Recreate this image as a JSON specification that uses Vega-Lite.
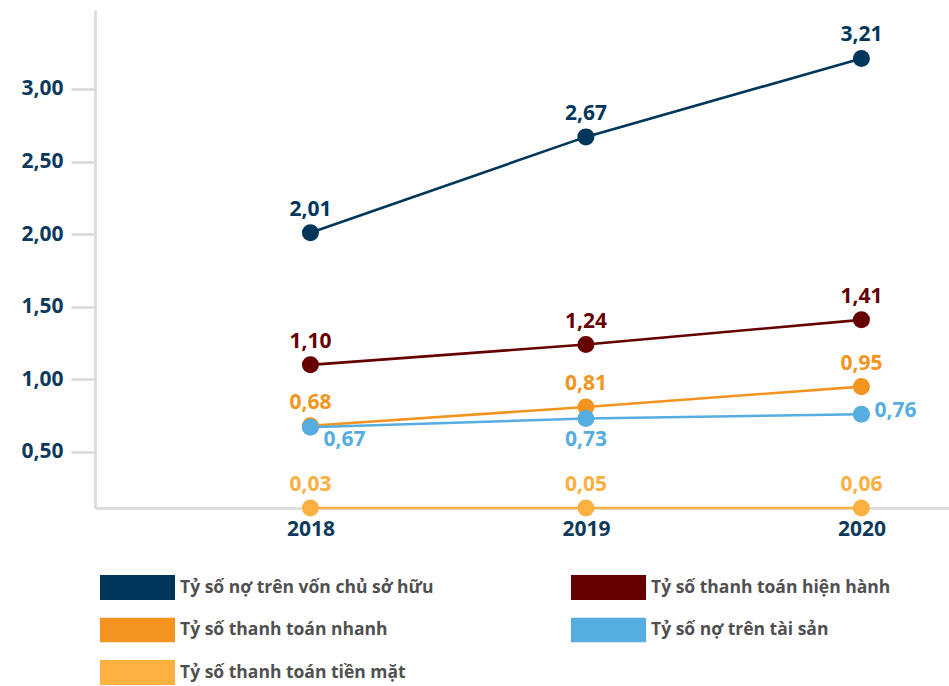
{
  "$schema": "https://vega.github.io/schema/vega-lite/v6.json",
  "width": 854,
  "height": 498,
  "autosize": {"type": "none"},
  "padding": {"left": 95, "top": 10, "right": 0, "bottom": 178},
  "background": "white",
  "config": {
    "view": {"stroke": null},
    "locale": {"number": {"decimal": ",", "thousands": ".", "grouping": [3], "currency": ["", ""]}},
    "font": "Open Sans"
  },
  "datasets": {
    "ratios": [
      {"series": "Tỷ số thanh toán tiền mặt", "year": 2018, "value": 0.03},
      {"series": "Tỷ số thanh toán tiền mặt", "year": 2019, "value": 0.05},
      {"series": "Tỷ số thanh toán tiền mặt", "year": 2020, "value": 0.06},
      {"series": "Tỷ số thanh toán nhanh", "year": 2018, "value": 0.68},
      {"series": "Tỷ số thanh toán nhanh", "year": 2019, "value": 0.81},
      {"series": "Tỷ số thanh toán nhanh", "year": 2020, "value": 0.95},
      {"series": "Tỷ số nợ trên tài sản", "year": 2018, "value": 0.67},
      {"series": "Tỷ số nợ trên tài sản", "year": 2019, "value": 0.73},
      {"series": "Tỷ số nợ trên tài sản", "year": 2020, "value": 0.76},
      {"series": "Tỷ số thanh toán hiện hành", "year": 2018, "value": 1.10},
      {"series": "Tỷ số thanh toán hiện hành", "year": 2019, "value": 1.24},
      {"series": "Tỷ số thanh toán hiện hành", "year": 2020, "value": 1.41},
      {"series": "Tỷ số nợ trên vốn chủ sở hữu", "year": 2018, "value": 2.01},
      {"series": "Tỷ số nợ trên vốn chủ sở hữu", "year": 2019, "value": 2.67},
      {"series": "Tỷ số nợ trên vốn chủ sở hữu", "year": 2020, "value": 3.21}
    ],
    "grid": [{"g": 0.5}, {"g": 1.0}, {"g": 1.5}, {"g": 2.0}, {"g": 2.5}, {"g": 3.0}]
  },
  "encoding": {
    "x": {
      "field": "year", "type": "quantitative",
      "scale": {"domain": [2017.218, 2020.318], "nice": false, "zero": false},
      "axis": {
        "title": null, "values": [2018, 2019, 2020], "format": "d",
        "ticks": false, "tickSize": 0, "grid": false,
        "domainColor": "#d9d9d9", "domainWidth": 2.6,
        "labelFont": "Open Sans", "labelFontWeight": "bold", "labelFontSize": 21,
        "labelColor": "#0d3a5c", "labelPadding": 10, "labelBaseline": "top"
      }
    },
    "y": {
      "field": "value", "type": "quantitative",
      "scale": {"domain": [0.114, 3.544], "nice": false, "zero": false, "clamp": true},
      "axis": {
        "title": null, "values": [0.5, 1.0, 1.5, 2.0, 2.5, 3.0], "format": ".2f",
        "grid": false, "domainColor": "#d9d9d9", "domainWidth": 2.6,
        "ticks": true, "tickColor": "#d6d6d6", "tickWidth": 2.4, "tickSize": 24, "tickOpacity": 1,
        "labelFont": "Open Sans", "labelFontWeight": "bold", "labelFontSize": 21,
        "labelColor": "#0d3a5c", "labelPadding": 8
      }
    }
  },
  "layer": [
    {
      "data": {"name": "grid"},
      "mark": {"type": "rule", "color": "#d9d9d9", "strokeWidth": 2.2},
      "encoding": {
        "x": {"datum": 2017.392, "type": "quantitative"},
        "x2": {"datum": 2020.318},
        "y": {"field": "g", "type": "quantitative"}
      }
    },
    {
      "data": {"name": "grid"},
      "mark": {"type": "rule", "color": "#d6d6d6", "strokeWidth": 2.4, "clip": false},
      "encoding": {
        "x": {"datum": 2017.131, "type": "quantitative"},
        "x2": {"datum": 2017.211},
        "y": {"field": "g", "type": "quantitative"}
      }
    },
    {
      "data": {"name": "ratios"},
      "mark": {"type": "line", "strokeWidth": 2.6},
      "encoding": {
        "color": {
          "field": "series", "type": "nominal",
          "scale": {
            "domain": ["Tỷ số nợ trên vốn chủ sở hữu", "Tỷ số thanh toán hiện hành", "Tỷ số thanh toán nhanh", "Tỷ số nợ trên tài sản", "Tỷ số thanh toán tiền mặt"],
            "range": ["#00365a", "#660000", "#f39420", "#55ade0", "#fbb040"]
          },
          "legend": {
            "title": null, "orient": "none", "legendX": 5, "legendY": 565,
            "direction": "horizontal", "columns": 2, "columnPadding": 137, "rowPadding": 17.5,
            "clipHeight": 25,
            "symbolType": "M-1,-0.3333H1V0.3333H-1Z", "symbolSize": 5625,
            "symbolStrokeWidth": 0, "symbolOpacity": 1, "labelOffset": 5,
            "labelFont": "Open Sans", "labelFontWeight": "bold", "labelFontSize": 17.5,
            "labelColor": "#505050", "labelLimit": 400
          }
        }
      }
    },
    {
      "data": {"name": "ratios"},
      "mark": {"type": "circle", "size": 290, "opacity": 1},
      "encoding": {"color": {"field": "series", "type": "nominal"}}
    },
    {
      "data": {"name": "ratios"},
      "transform": [{"filter": "datum.series !== 'Tỷ số nợ trên tài sản'"}],
      "mark": {"type": "text", "font": "Open Sans", "fontWeight": "bold", "fontSize": 21, "align": "center", "baseline": "middle", "dy": -23},
      "encoding": {"color": {"field": "series", "type": "nominal"}, "text": {"field": "value", "type": "quantitative", "format": ".2f"}}
    },
    {
      "data": {"name": "ratios"},
      "transform": [{"filter": "datum.series === 'Tỷ số nợ trên tài sản' && datum.year === 2018"}],
      "mark": {"type": "text", "font": "Open Sans", "fontWeight": "bold", "fontSize": 21, "align": "center", "baseline": "middle", "dx": 34, "dy": 13},
      "encoding": {"color": {"field": "series", "type": "nominal"}, "text": {"field": "value", "type": "quantitative", "format": ".2f"}}
    },
    {
      "data": {"name": "ratios"},
      "transform": [{"filter": "datum.series === 'Tỷ số nợ trên tài sản' && datum.year === 2019"}],
      "mark": {"type": "text", "font": "Open Sans", "fontWeight": "bold", "fontSize": 21, "align": "center", "baseline": "middle", "dy": 21},
      "encoding": {"color": {"field": "series", "type": "nominal"}, "text": {"field": "value", "type": "quantitative", "format": ".2f"}}
    },
    {
      "data": {"name": "ratios"},
      "transform": [{"filter": "datum.series === 'Tỷ số nợ trên tài sản' && datum.year === 2020"}],
      "mark": {"type": "text", "font": "Open Sans", "fontWeight": "bold", "fontSize": 21, "align": "left", "baseline": "middle", "dx": 13, "dy": -3},
      "encoding": {"color": {"field": "series", "type": "nominal"}, "text": {"field": "value", "type": "quantitative", "format": ".2f"}}
    }
  ]
}
